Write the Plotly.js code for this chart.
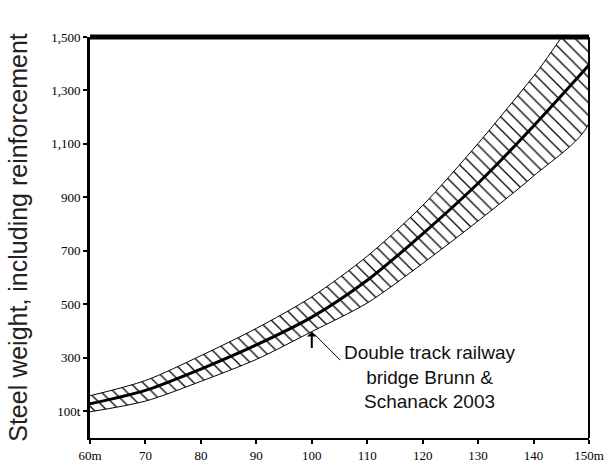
<!DOCTYPE html>
<html>
<head>
<meta charset="utf-8">
<script src="https://cdn.plot.ly/plotly-3.0.1.min.js"></script>
<style>html,body{margin:0;padding:0;background:#fff;}#chart{width:610px;height:464px;}</style>
</head>
<body>
<div id="chart"></div>
<script>
// Span (m)
var spans = [60, 70, 80, 90, 100, 110, 120, 130, 140, 150];
// Steel weight (t): central trend and band limits
var centerWeight = [128, 178, 258, 348, 452, 590, 764, 953, 1167, 1395];
var upperWeight  = [158, 215, 308, 410, 528, 680, 870, 1102, 1353, 1610];
var lowerWeight  = [98, 138, 212, 294, 398, 505, 653, 812, 980, 1178];

var xTickVals = [60, 70, 80, 90, 100, 110, 120, 130, 140, 150];
var xTickText = ['60m', '70', '80', '90', '100', '110', '120', '130', '140', '150m'];
var yTickVals = [100, 300, 500, 700, 900, 1100, 1300, 1500];
var yTickText = ['100t', '300', '500', '700', '900', '1,100', '1,300', '1,500'];

var annotatedSpan = 100;
var noteText = 'Double track railway<br>bridge Brunn &<br>Schanack 2003';

var bandX = spans.concat(spans.slice().reverse());
var bandY = upperWeight.concat(lowerWeight.slice().reverse());

var band = {
  x: bandX, y: bandY, type: 'scatter', mode: 'lines',
  fill: 'toself', fillcolor: '#ffffff',
  fillpattern: {shape: '\\', size: 9, solidity: 0.14, fgcolor: '#000000', bgcolor: '#ffffff'},
  line: {color: '#000000', width: 1, shape: 'spline', smoothing: 0.8},
  hoverinfo: 'skip', showlegend: false
};
var center = {
  x: spans, y: centerWeight, type: 'scatter', mode: 'lines',
  line: {color: '#000000', width: 3, shape: 'spline', smoothing: 0.8},
  showlegend: false
};

var idx = spans.indexOf(annotatedSpan);
var tickFont = {family: 'Liberation Serif, Times New Roman, serif', size: 13, color: '#000'};

var layout = {
  width: 610, height: 464,
  margin: {l: 90, r: 21, t: 37, b: 26},
  paper_bgcolor: '#ffffff', plot_bgcolor: '#ffffff',
  showlegend: false,
  xaxis: {
    range: [60, 150], tickvals: xTickVals, ticktext: xTickText,
    showline: true, linecolor: '#000', linewidth: 2,
    ticks: 'outside', ticklen: 4, tickwidth: 2, tickcolor: '#000',
    showgrid: false, zeroline: false, tickfont: tickFont
  },
  yaxis: {
    range: [0, 1500], tickvals: yTickVals, ticktext: yTickText,
    showline: true, linecolor: '#000', linewidth: 3,
    ticks: 'outside', ticklen: 4, tickwidth: 2, tickcolor: '#000',
    showgrid: false, zeroline: false, tickfont: tickFont,
    title: {text: 'Steel weight, including reinforcement', standoff: 17,
            font: {family: 'Liberation Sans, Arial, sans-serif', size: 25, color: '#222'}}
  },
  shapes: [
    {type: 'line', xref: 'paper', yref: 'paper', x0: 0, x1: 1, y0: 1, y1: 1, line: {color: '#000', width: 5}},
    {type: 'line', xref: 'paper', yref: 'paper', x0: 1, x1: 1, y0: 0, y1: 1, line: {color: '#000', width: 2}}
  ],
  annotations: [
    {xref: 'paper', yref: 'paper', x: 0.682, y: 0.152, xanchor: 'center', yanchor: 'middle',
     text: noteText, showarrow: false, align: 'center',
     font: {family: 'Liberation Sans, Arial, sans-serif', size: 19, color: '#111'}},
    {x: annotatedSpan, y: lowerWeight[idx], xref: 'x', yref: 'y', text: '', showarrow: true,
     ax: 0, ay: 18, arrowhead: 1, arrowsize: 0.8, arrowwidth: 2, arrowcolor: '#000'},
    {x: annotatedSpan, y: lowerWeight[idx], xref: 'x', yref: 'y', text: '', showarrow: true,
     ax: 30, ay: 30, arrowhead: 0, arrowwidth: 1, arrowcolor: '#000', standoff: 4}
  ]
};

Plotly.newPlot('chart', [band, center], layout, {displayModeBar: false, staticPlot: true});
</script>
</body>
</html>
